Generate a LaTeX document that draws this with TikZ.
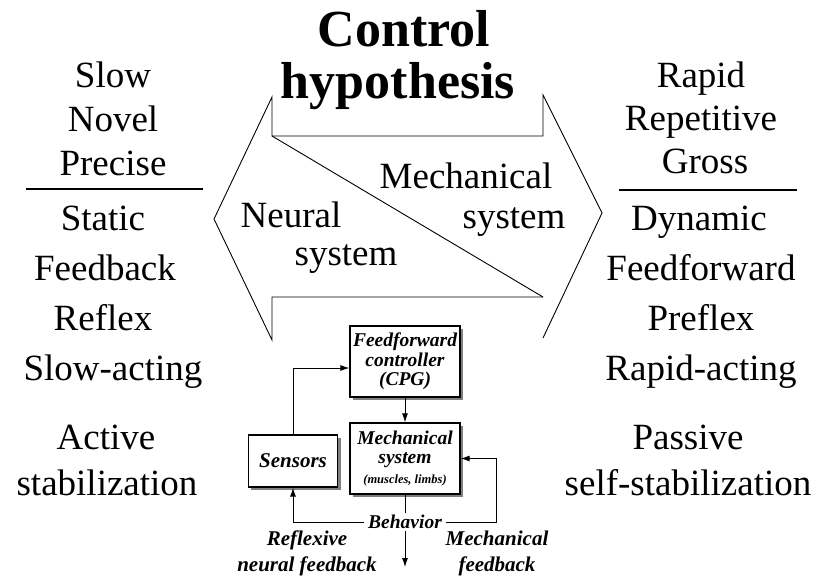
\documentclass[tikz,border=0pt]{standalone}
\usepackage{fontspec}
\setmainfont{Liberation Serif}
\usetikzlibrary{arrows.meta,positioning,shadows}
\tikzset{>={Latex[length=9pt,width=6pt]}}

\begin{document}
\begin{tikzpicture}
	[x=1pt, y=-1pt, inner sep=0pt, line width=0.9pt,
	word/.style={anchor=base, font=\fontsize{37}{44}\selectfont},
	heading/.style={anchor=base, font=\fontsize{52}{56}\selectfont\bfseries},
	block/.style={draw, fill=white, line width=1.3pt, align=center,
		drop shadow={shadow xshift=3pt, shadow yshift=-3pt, fill=black!50, opacity=1},
		font=\fontsize{19.5}{19.5}\selectfont\bfseries\itshape},
	tag/.style={align=center, font=\fontsize{21}{26}\selectfont\bfseries\itshape}]

	\useasboundingbox (0,0) rectangle (826,579);

	% title
	\node[heading] (control) at (404,46) {Control};
	\node[heading] (hypo)    at (398,98) {hypothesis};

	% left column
	\node[word] (slow)     at (113,87)    {Slow};
	\node[word] (novel)    at (113,131)   {Novel};
	\node[word] (precise)  at (113,175)   {Precise};
	\node[word] (static)   at (103,230)   {Static};
	\node[word] (fback)    at (105,280.5) {Feedback};
	\node[word] (reflex)   at (103,330)   {Reflex};
	\node[word] (slowact)  at (113,380)   {Slow-acting};
	\node[word] (active)   at (106,449)   {Active};
	\node[word] (stabil)   at (107,495)   {stabilization};

	% right column
	\node[word] (rapid)    at (701,87)    {Rapid};
	\node[word] (repet)    at (701,130)   {Repetitive};
	\node[word] (gross)    at (705,173)   {Gross};
	\node[word] (dynamic)  at (699,230)   {Dynamic};
	\node[word] (ffwd)     at (701,280)   {Feedforward};
	\node[word] (preflex)  at (701,330)   {Preflex};
	\node[word] (rapidact) at (701,380)   {Rapid-acting};
	\node[word] (passive)  at (688,449)   {Passive};
	\node[word] (selfstab) at (688,495)   {self-stabilization};

	\draw[line width=1.6pt] (26,189) -- (203,189);
	\draw[line width=1.6pt] (619,190) -- (797,190);

	% double arrow
	\draw (543,338) -- (602,213) -- (543,95) -- (543,136) -- (272,136) -- (272,97)
		-- (214,219) -- (272,340) -- (272,297) -- (543,297);
	\draw (272,136) -- (543,297);

	\node[word] (mechA)  at (466,188) {Mechanical};
	\node[word] (mechB)  at (514,228) {system};
	\node[word] (neurA)  at (291,227) {Neural};
	\node[word] (neurB)  at (346,265) {system};

	% block diagram
	\node[block, minimum width=110pt, minimum height=71pt] (ctrl) at (405,361.5) {Feedforward\\controller\\(CPG)};
	\node[block, minimum width=110pt, minimum height=71pt] (plant) at (405,458.5)
		{Mechanical\\system\\{\fontsize{12.5}{14}\selectfont(muscles, limbs)}};
	\node[block, minimum width=89.5pt, minimum height=52pt,
		font=\fontsize{21}{21}\selectfont\bfseries\itshape] (sensor) at (293,461) {Sensors};
	\node[tag, font=\fontsize{19.5}{20}\selectfont\bfseries\itshape, inner xsep=4pt, inner ysep=2pt] (behav) at (405,522) {Behavior};
	\coordinate (outlet) at (405,567);

	\node[tag] (reflab) at (307,553) {Reflexive\\neural feedback};
	\node[tag] (mechlab) at (497,553) {Mechanical\\feedback};

	\draw [->] (ctrl)         to (plant);
	\draw [->] (sensor.north) |- ([yshift=-6.5pt]ctrl.west);
	\draw      (plant)        to (behav);
	\draw [->] (behav)        to (outlet);
	\draw [->] (behav.west)   -| (sensor.south);
	\draw [->] (behav.east)   -| ([xshift=36pt]plant.east) -- (plant.east);
\end{tikzpicture}
\end{document}
